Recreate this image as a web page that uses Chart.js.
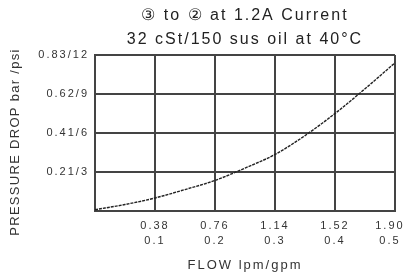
<!DOCTYPE html>
<html>
<head>
<meta charset="utf-8">
<script src="https://cdn.jsdelivr.net/npm/chart.js@4/dist/chart.umd.min.js"></script>
<style>
  html, body { margin: 0; padding: 0; background: #fff; }
  #wrap { width: 405px; height: 279px; }
</style>
</head>
<body>
<div id="wrap"><canvas id="pd" width="405" height="279"></canvas></div>
<script>
// values (flow in gpm, pressure drop in psi)
const flowGpm = [0, 0.05, 0.1, 0.15, 0.2, 0.25, 0.3, 0.35, 0.4, 0.45, 0.5];
const dropPsi = [0.1, 0.5, 1.0, 1.65, 2.35, 3.3, 4.35, 5.8, 7.5, 9.4, 11.4];

// tick labels (last one padded so it sits inside the picture like the original)
const yTickLabels = ['', '0.21/3', '0.41/6', '0.62/9', '0.83/12'];
const xTickLabels = [[''], ['0.38', '0.1'], ['0.76', '0.2'], ['1.14', '0.3'], ['1.52', '0.4'], ['1.90  ', '0.5  ']];

const titleLines = ['\u2462 to \u2461 at 1.2A Current', '32 cSt/150 sus oil at 40\u00b0C'];
const yTitle = 'PRESSURE DROP bar /psi';
const xTitle = 'FLOW lpm/gpm';

const FONT = 'Arial, "Liberation Sans", sans-serif';
const INK = '#333';
const GRID = '#444';

// the original lettering is spaced out, so widen every glyph run a bit
const spacing = {
  id: 'spacing',
  beforeLayout(chart) { chart.ctx.letterSpacing = '2px'; },
  beforeDraw(chart) { chart.ctx.letterSpacing = '2px'; }
};

// titles drawn by hand so the plot box stays where the original has it
const textPlugin = {
  id: 'textLabels',
  afterDraw(chart) {
    const ctx = chart.ctx;
    const area = chart.chartArea;
    const cx = (area.left + area.right) / 2;
    ctx.save();
    ctx.fillStyle = '#222';
    ctx.textAlign = 'center';
    ctx.textBaseline = 'middle';
    ctx.letterSpacing = '2px';
    ctx.font = '16px ' + FONT;
    ctx.fillText(titleLines[0], cx, 16);
    ctx.fillText(titleLines[1], cx, 40);

    ctx.font = '13px ' + FONT;
    ctx.fillStyle = INK;
    ctx.fillText(xTitle, cx, 265);

    ctx.translate(15, 142);
    ctx.rotate(-Math.PI / 2);
    ctx.letterSpacing = '1.3px';
    ctx.fillText(yTitle, 0, 0);
    ctx.restore();
  }
};

new Chart(document.getElementById('pd').getContext('2d'), {
  type: 'line',
  data: {
    datasets: [{
      data: flowGpm.map((x, i) => ({ x, y: dropPsi[i] })),
      borderColor: '#222',
      borderWidth: 1.4,
      borderDash: [3, 1],
      pointRadius: 0,
      cubicInterpolationMode: 'monotone',
      fill: false
    }]
  },
  options: {
    responsive: false,
    animation: false,
    layout: { padding: { left: 0, right: 10, top: 55, bottom: 0 } },
    plugins: {
      legend: { display: false },
      tooltip: { enabled: false },
      title: { display: false }
    },
    scales: {
      x: {
        type: 'linear',
        min: 0,
        max: 0.5,
        afterFit: (s) => { s.height = 68; s.paddingLeft = 0; s.paddingRight = 0; },
        afterBuildTicks: (s) => {
          s.ticks = [0, 0.1, 0.2, 0.3, 0.4, 0.5].map(v => ({ value: v }));
        },
        grid: { color: GRID, lineWidth: 2, drawTicks: false },
        border: { color: GRID, width: 2 },
        ticks: {
          padding: 8,
          color: INK,
          font: { family: FONT, size: 11, lineHeight: 1.35 },
          maxRotation: 0,
          autoSkip: false,
          callback: (v, i) => xTickLabels[i]
        }
      },
      y: {
        min: 0,
        max: 12,
        afterFit: (s) => { s.width = 95; s.paddingTop = 0; s.paddingBottom = 0; },
        afterBuildTicks: (s) => {
          s.ticks = [0, 3, 6, 9, 12].map(v => ({ value: v }));
        },
        grid: { color: GRID, lineWidth: 2, drawTicks: false },
        border: { color: GRID, width: 2 },
        ticks: {
          padding: 6,
          color: INK,
          font: { family: FONT, size: 11 },
          autoSkip: false,
          callback: (v, i) => yTickLabels[i]
        }
      }
    }
  },
  plugins: [spacing, textPlugin]
});
</script>
</body>
</html>
